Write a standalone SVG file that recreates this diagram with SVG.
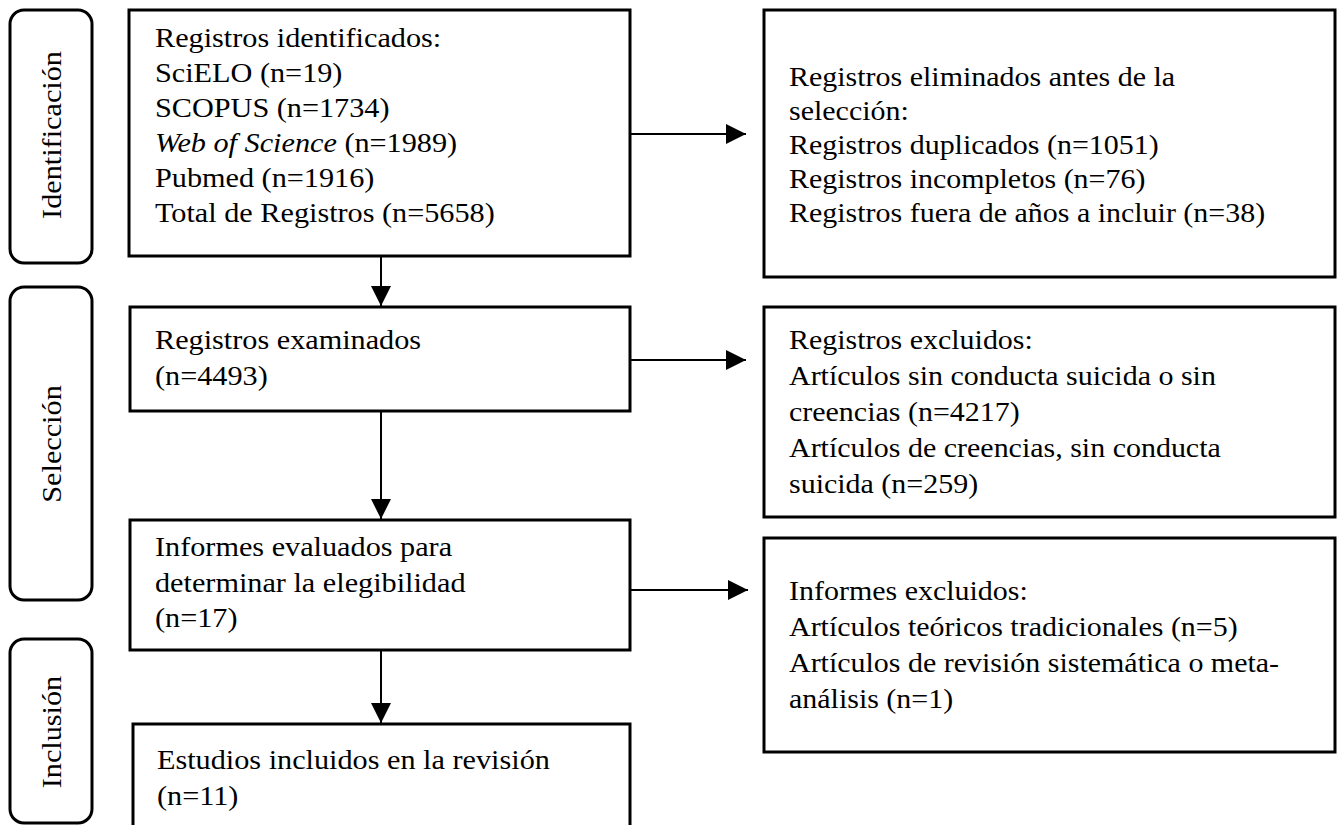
<svg xmlns="http://www.w3.org/2000/svg" width="1337" height="825" viewBox="0 0 1337 825">
<style>
.box{fill:#fff;stroke:#000;stroke-width:3}
.phase{fill:#fff;stroke:#000;stroke-width:3}
.t{font-family:"Liberation Serif","Times New Roman",serif;font-size:28px;fill:#000}
.r{font-size:27px}
.conn{stroke:#000;stroke-width:2;fill:none;marker-end:url(#ah)}
</style>
<defs>
<marker id="ah" viewBox="0 0 20 20" refX="20" refY="10" markerWidth="20" markerHeight="20" markerUnits="userSpaceOnUse" orient="auto">
<path d="M0,0 L20,10 L0,20 z" fill="#000"/>
</marker>
</defs>
<rect width="1337" height="825" fill="#fff"/>

<g id="phase-identificacion">
<rect class="phase" x="10" y="10" width="82" height="253" rx="14"/>
<text class="t" text-anchor="middle" transform="translate(61,135) rotate(-90) scale(1.08,1)">Identificación</text>
</g>
<g id="phase-seleccion">
<rect class="phase" x="10" y="287" width="82" height="313" rx="14"/>
<text class="t" text-anchor="middle" transform="translate(61,444) rotate(-90) scale(1.08,1)">Selección</text>
</g>
<g id="phase-inclusion">
<rect class="phase" x="10" y="639" width="82" height="184" rx="14"/>
<text class="t" text-anchor="middle" transform="translate(61,732) rotate(-90) scale(1.08,1)">Inclusión</text>
</g>

<g id="registros-identificados">
<rect class="box" x="129" y="10" width="501" height="246"/>
<text class="t" transform="translate(155,0) scale(1.08,1)">
<tspan x="0" y="47">Registros identificados:</tspan>
<tspan x="0" y="82">SciELO (n=19)</tspan>
<tspan x="0" y="117">SCOPUS (n=1734)</tspan>
<tspan x="0" y="152"><tspan font-style="italic">Web of Science</tspan> (n=1989)</tspan>
<tspan x="0" y="187">Pubmed (n=1916)</tspan>
<tspan x="0" y="222">Total de Registros (n=5658)</tspan>
</text>
</g>

<g id="registros-examinados">
<rect class="box" x="130" y="307" width="500" height="104"/>
<text class="t" transform="translate(155,0) scale(1.08,1)">
<tspan x="0" y="349">Registros examinados</tspan>
<tspan x="0" y="385">(n=4493)</tspan>
</text>
</g>

<g id="informes-evaluados">
<rect class="box" x="130" y="520" width="500" height="130"/>
<text class="t" transform="translate(155,0) scale(1.08,1)">
<tspan x="0" y="556">Informes evaluados para</tspan>
<tspan x="0" y="592">determinar la elegibilidad</tspan>
<tspan x="0" y="627">(n=17)</tspan>
</text>
</g>

<g id="estudios-incluidos">
<rect class="box" x="133" y="724" width="497" height="104"/>
<text class="t" transform="translate(157,0) scale(1.08,1)">
<tspan x="0" y="769">Estudios incluidos en la revisión</tspan>
<tspan x="0" y="805">(n=11)</tspan>
</text>
</g>

<g id="registros-eliminados">
<rect class="box" x="764" y="10" width="571" height="267"/>
<text class="t r" transform="translate(789,0) scale(1.11,1)">
<tspan x="0" y="86">Registros eliminados antes de la</tspan>
<tspan x="0" y="120">selección:</tspan>
<tspan x="0" y="154">Registros duplicados (n=1051)</tspan>
<tspan x="0" y="188">Registros incompletos (n=76)</tspan>
<tspan x="0" y="222">Registros fuera de años a incluir (n=38)</tspan>
</text>
</g>

<g id="registros-excluidos">
<rect class="box" x="764" y="307" width="571" height="210"/>
<text class="t r" transform="translate(789,0) scale(1.11,1)">
<tspan x="0" y="349">Registros excluidos:</tspan>
<tspan x="0" y="385">Artículos sin conducta suicida o sin</tspan>
<tspan x="0" y="421">creencias (n=4217)</tspan>
<tspan x="0" y="457">Artículos de creencias, sin conducta</tspan>
<tspan x="0" y="493">suicida (n=259)</tspan>
</text>
</g>

<g id="informes-excluidos">
<rect class="box" x="764" y="538" width="571" height="214"/>
<text class="t r" transform="translate(789,0) scale(1.11,1)">
<tspan x="0" y="600">Informes excluidos:</tspan>
<tspan x="0" y="636">Artículos teóricos tradicionales (n=5)</tspan>
<tspan x="0" y="672">Artículos de revisión sistemática o meta-</tspan>
<tspan x="0" y="708">análisis (n=1)</tspan>
</text>
</g>

<g id="connectors">
<path class="conn" d="M381,257 L381,306"/>
<path class="conn" d="M381,412 L381,519"/>
<path class="conn" d="M381,651 L381,723"/>
<path class="conn" d="M631,134 L746,134"/>
<path class="conn" d="M631,360 L746,360"/>
<path class="conn" d="M631,590 L748,590"/>
</g>
</svg>
